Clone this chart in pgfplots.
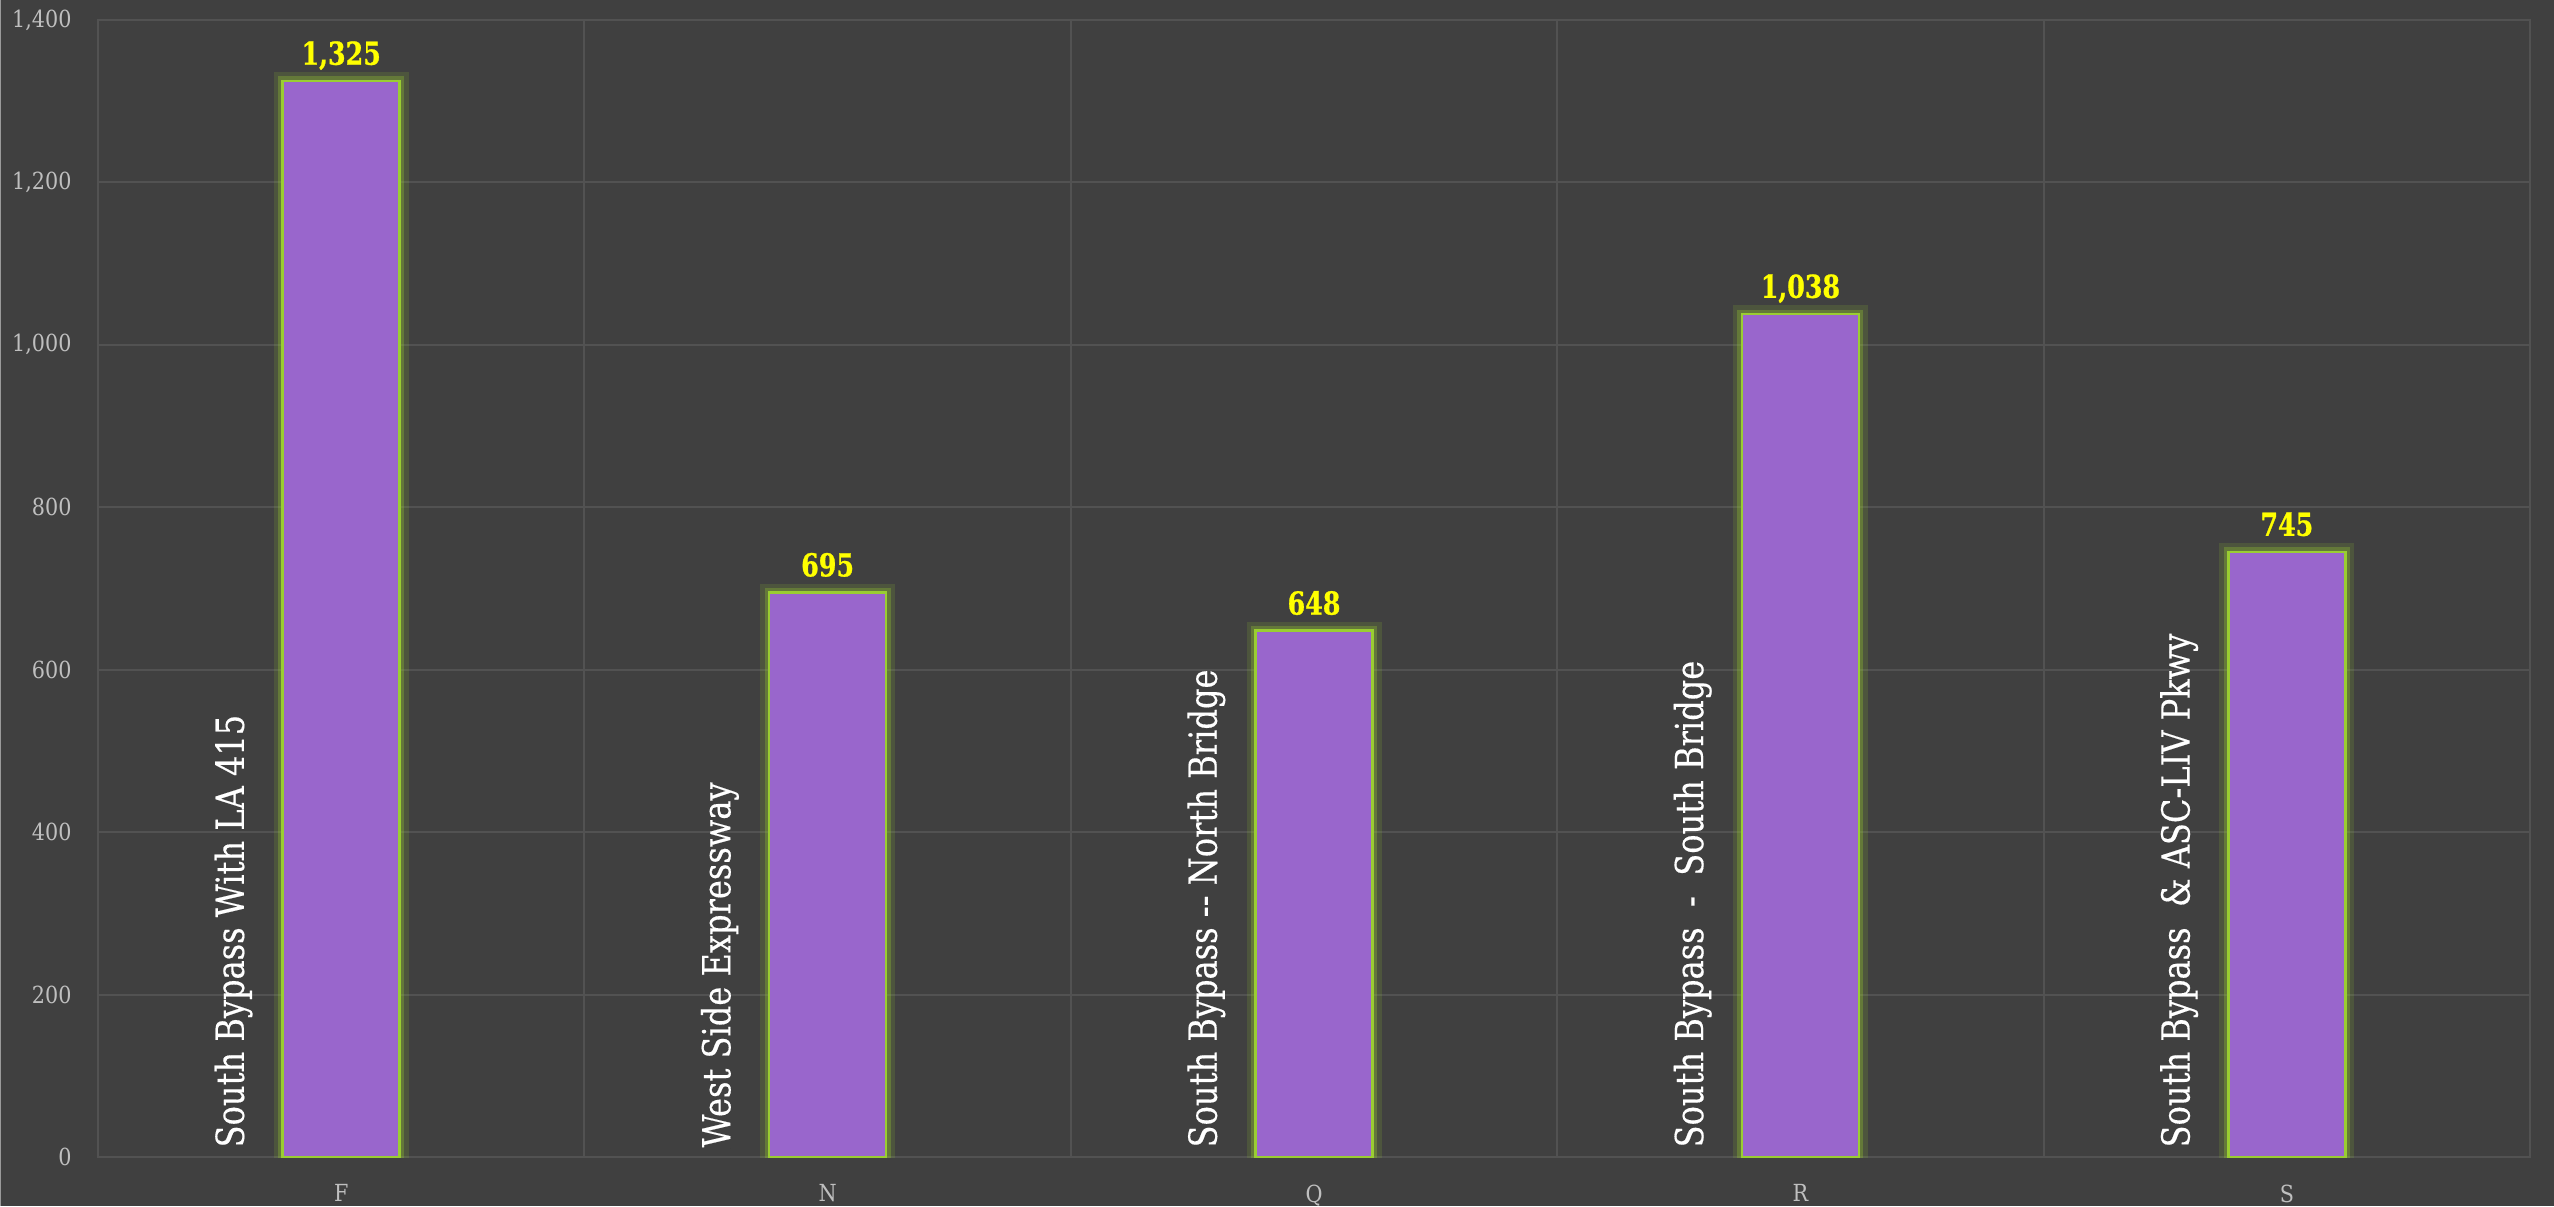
\documentclass[border=0pt]{standalone}
\usepackage{fontspec}
\setmainfont{DejaVu Serif}
\newfontfamily\catfont[FakeStretch=0.83, FakeBold=0.35]{DejaVu Serif}
\newfontfamily\valfont[FakeStretch=0.8, FakeBold=0.8]{DejaVu Serif}
\newfontfamily\tickfont[FakeStretch=0.88]{DejaVu Serif}
\usepackage{pgfplots}
\pgfplotsset{compat=1.18}
\definecolor{bgc}{HTML}{404040}
\definecolor{gridc}{HTML}{525252}
\definecolor{barc}{HTML}{9966CC}
\definecolor{edgec}{HTML}{9ACD32}
\definecolor{tickc}{HTML}{BFBFBF}
\definecolor{valc}{HTML}{FFFF00}
\definecolor{leftc}{HTML}{9A9A9A}
\begin{document}
\begin{tikzpicture}[x=1mm,y=1mm]
\fill[bgc] (0,0) rectangle (255.4,120.6);
\useasboundingbox (0,0) rectangle (255.4,120.6);
\draw[leftc, line width=0.15mm] (0.075,0) -- (0.075,120.6);
\begin{axis}[
  at={(9.8mm,4.9mm)}, anchor=south west,
  width=243.2mm, height=113.7mm, scale only axis,
  xmin=-0.5, xmax=4.5, ymin=0, ymax=1400,
  xtick={0,1,2,3,4}, xticklabels={F,N,Q,R,S},
  minor xtick={-0.5,0.5,1.5,2.5,3.5,4.5},
  ytick={0,200,400,600,800,1000,1200,1400},
  xminorgrids=true, ymajorgrids=true, xmajorgrids=false,
  grid style={gridc, line width=0.2mm},
  minor grid style={gridc, line width=0.2mm},
  axis line style={gridc, line width=0.2mm},
  major tick length=0pt, minor tick length=0pt,
  tick style={draw=none},
  ticklabel style={font=\tickfont\fontsize{6.7}{8}\selectfont, text=tickc},
  yticklabel style={xshift=-4pt},
  xticklabel style={yshift=-4.3pt},
  /pgf/number format/1000 sep={,},
  /pgf/number format/assume math mode=true,
]
\addplot[ybar, bar width=11.7mm, bar shift=0pt, fill=none, draw=edgec, draw opacity=0.15, line width=1.8mm]
  coordinates {(0,1325) (1,695) (2,648) (3,1038) (4,745)};
\addplot[ybar, bar width=11.7mm, bar shift=0pt, fill=none, draw=edgec, draw opacity=0.3, line width=0.9mm]
  coordinates {(0,1325) (1,695) (2,648) (3,1038) (4,745)};
\addplot[ybar, bar width=11.7mm, bar shift=0pt, fill=barc, draw=edgec, line width=0.25mm,
  nodes near coords,
  every node near coord/.append style={font=\valfont\bfseries\fontsize{9}{10}\selectfont, text=valc, anchor=base, yshift=4.6pt, inner sep=0pt}]
  coordinates {(0,1325) (1,695) (2,648) (3,1038) (4,745)};
\addplot[only marks, mark=*, mark size=0pt, mark options={draw=none, fill=none},
  point meta=explicit symbolic, nodes near coords,
  every node near coord/.append style={font=\catfont\fontsize{11}{13}\selectfont, text=white, rotate=90, anchor=base west, inner sep=0pt}]
  coordinates {
    (-0.2,11) [South Bypass With LA 415]
    (0.8,11) [West Side Expressway]
    (1.8,11) [South Bypass -- North Bridge]
    (2.8,11) [South Bypass\ \ -\ \ South Bridge]
    (3.8,11) [South Bypass\ \ \& ASC-LIV Pkwy]
  };
\end{axis}
\end{tikzpicture}
\end{document}
